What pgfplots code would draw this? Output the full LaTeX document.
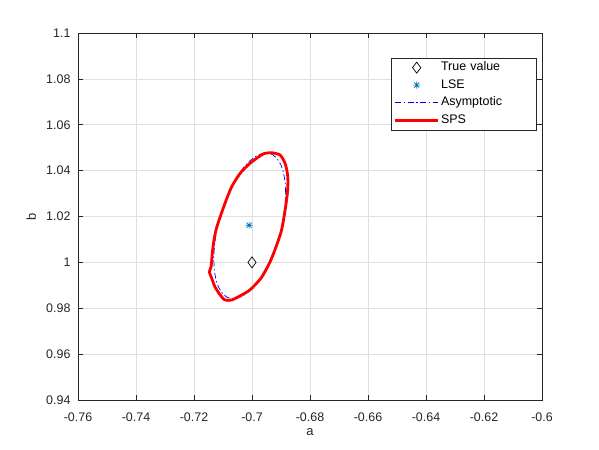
\documentclass[border=0pt]{standalone}
\usepackage{pgfplots}
\pgfplotsset{compat=1.18}
\usepackage{fontspec}
\setmainfont{Liberation Sans}
\definecolor{axgray}{RGB}{38,38,38}
\definecolor{gridgray}{RGB}{223,223,223}
\definecolor{lseblue}{rgb}{0,0.447,0.741}
\pgfdeclareplotmark{mstar}{%
  \pgfpathmoveto{\pgfpoint{-\pgfplotmarksize}{0pt}}\pgfpathlineto{\pgfpoint{\pgfplotmarksize}{0pt}}%
  \pgfpathmoveto{\pgfpoint{0pt}{-\pgfplotmarksize}}\pgfpathlineto{\pgfpoint{0pt}{\pgfplotmarksize}}%
  \pgfpathmoveto{\pgfpoint{-0.707\pgfplotmarksize}{-0.707\pgfplotmarksize}}\pgfpathlineto{\pgfpoint{0.707\pgfplotmarksize}{0.707\pgfplotmarksize}}%
  \pgfpathmoveto{\pgfpoint{-0.707\pgfplotmarksize}{0.707\pgfplotmarksize}}\pgfpathlineto{\pgfpoint{0.707\pgfplotmarksize}{-0.707\pgfplotmarksize}}%
  \pgfusepathqstroke}
\pgfplotsset{
  legmark/.style={legend image code/.code={\draw[##1] plot coordinates {(21.5bp,0bp)};}},
  legline/.style={legend image code/.code={\draw[##1, line cap=butt] (0bp,0bp) -- (43bp,0bp);}},
}
\begin{document}
\begin{tikzpicture}
\path[use as bounding box, fill=white] (0,0) rectangle (599bp,450bp);
\begin{axis}[
  at={(78bp,50bp)}, anchor=south west,
  width=464bp, height=367bp, scale only axis,
  xmin=-0.76, xmax=-0.6, ymin=0.94, ymax=1.1,
  xtick={-0.76,-0.74,-0.72,-0.7,-0.68,-0.66,-0.64,-0.62,-0.6},
  xticklabels={-0.76,-0.74,-0.72,-0.7,-0.68,-0.66,-0.64,-0.62,-0.6},
  ytick={0.94,0.96,0.98,1,1.02,1.04,1.06,1.08,1.1},
  yticklabels={0.94,0.96,0.98,1,1.02,1.04,1.06,1.08,1.1},
  grid=major,
  major grid style={gridgray, line width=0.5bp},
  axis line style={axgray, line width=0.6bp},
  tick style={axgray, line width=0.6bp},
  tick align=inside, major tick length=5bp,
  xtick pos=both, ytick pos=both,
  tick label style={font=\fontsize{12.5}{15}\selectfont, text=axgray},
  xticklabel style={yshift=-9bp},
  yticklabel style={xshift=-4bp},
  xlabel={a}, ylabel={b},
  label style={font=\fontsize{13}{15}\selectfont, text=axgray},
  x label style={at={(axis description cs:0.5,-0.087)}, anchor=center},
  y label style={at={(axis description cs:-0.101,0.5)}, anchor=center},
  legend cell align=left,
  legend style={at={(0.989,0.933)}, anchor=north east,
    draw=axgray, line width=0.6bp, fill=white,
    font=\fontsize{12.5}{15}\selectfont,
    inner xsep=2bp, inner ysep=1bp,
    nodes={inner ysep=2.9bp, inner xsep=1.5bp, text height=9bp, text depth=2.7bp, text width=92bp, align=left}},
]
\addplot[only marks, mark=diamond, mark size=5.5bp, mark options={draw=black, line width=0.7bp, fill=none}, legmark]
  coordinates {(-0.7,1.0)};
\addlegendentry{True value}
\addplot[only marks, mark=mstar, mark size=3.6bp, mark options={draw=lseblue, line width=0.7bp}, legmark]
  coordinates {(-0.701,1.0162)};
\addlegendentry{LSE}
\addplot[blue, line width=0.7bp, dash pattern=on 6bp off 2.5bp on 1.5bp off 2.5bp, legline]
  coordinates {
(-0.68840,1.03042) (-0.68859,1.03511) (-0.68915,1.03922) (-0.69006,1.04262)
(-0.69130,1.04521) (-0.69283,1.04691) (-0.69460,1.04766) (-0.69656,1.04745)
(-0.69865,1.04628) (-0.70080,1.04419) (-0.70295,1.04124) (-0.70504,1.03752)
(-0.70700,1.03315) (-0.70877,1.02824) (-0.71030,1.02297) (-0.71154,1.01748)
(-0.71245,1.01194) (-0.71301,1.00652) (-0.71320,1.00138) (-0.71301,0.99669)
(-0.71245,0.99258) (-0.71154,0.98918) (-0.71030,0.98659) (-0.70877,0.98490)
(-0.70700,0.98414) (-0.70504,0.98435) (-0.70295,0.98552) (-0.70080,0.98761)
(-0.69865,0.99056) (-0.69656,0.99428) (-0.69460,0.99865) (-0.69283,1.00356)
(-0.69130,1.00883) (-0.69006,1.01432) (-0.68915,1.01986) (-0.68859,1.02528)
(-0.68840,1.03042)
  };
\addlegendentry{Asymptotic}
\addplot[red, line width=2.8bp, line join=round, line cap=round, smooth, tension=0.4, legline]
  coordinates {
(-0.6932,1.0478) (-0.6903,1.0468) (-0.6886,1.0432) (-0.6878,1.0388)
(-0.6876,1.0352) (-0.6878,1.0301) (-0.6884,1.0243) (-0.6893,1.0172)
(-0.6901,1.0127) (-0.6921,1.0054) (-0.6940,0.9996) (-0.6969,0.9931)
(-0.7007,0.9880) (-0.7041,0.9854) (-0.7070,0.9836) (-0.7093,0.9836)
(-0.7110,0.9858) (-0.7128,0.9894) (-0.7139,0.9931) (-0.7147,0.9959)
(-0.7141,0.9981) (-0.7137,1.0040) (-0.7131,1.0098) (-0.7121,1.0156)
(-0.7093,1.0258) (-0.7070,1.0330) (-0.7041,1.0388)
(-0.7007,1.0432) (-0.6961,1.0473) (-0.6932,1.0478)
  };
\addlegendentry{SPS}
\end{axis}
\end{tikzpicture}
\end{document}
